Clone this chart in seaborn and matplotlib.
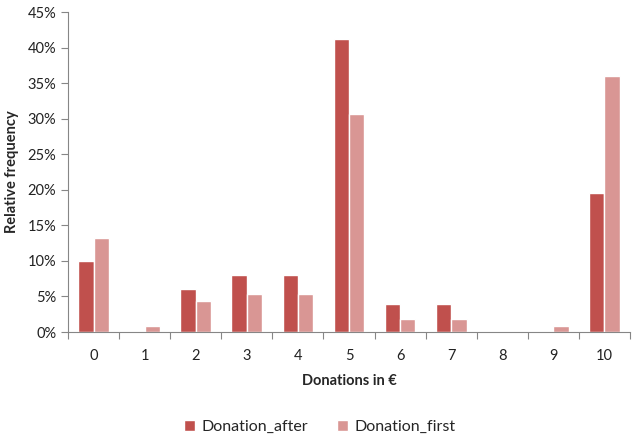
import matplotlib
matplotlib.use("Agg")
import matplotlib.pyplot as plt
from matplotlib.ticker import PercentFormatter, FixedLocator
import seaborn as sns
import pandas as pd

# Donation amounts and relative frequencies (in %)
donations = ["0", "1", "2", "3", "4", "5", "6", "7", "8", "9", "10"]
donation_after = [10.0, 0.0, 6.0, 8.0, 8.0, 41.2, 4.0, 4.0, 0.0, 0.0, 19.6]
donation_first = [13.2, 0.9, 4.4, 5.3, 5.3, 30.7, 1.8, 1.8, 0.0, 0.9, 36.0]
series_names = ["Donation_after", "Donation_first"]
colors = ["#C0504D", "#D99694"]

df = pd.DataFrame({
    "Donation": donations * 2,
    "Frequency": donation_after + donation_first,
    "Series": [series_names[0]] * len(donations) + [series_names[1]] * len(donations),
})

sns.set_theme(style="white")
plt.rcParams["font.family"] = ["Lato", "DejaVu Sans"]

fig = plt.figure(figsize=(6.4, 4.37), dpi=100)
ax = fig.add_axes([68 / 640, 105 / 437, 562 / 640, 320 / 437])

sns.barplot(data=df, x="Donation", y="Frequency", hue="Series",
            order=donations, hue_order=series_names, palette=colors,
            width=0.6, saturation=1, ax=ax, legend=True)

ax.set_ylim(0, 45)
ax.set_xlim(-0.5, len(donations) - 0.5)
ax.yaxis.set_major_locator(FixedLocator(range(0, 46, 5)))
ax.yaxis.set_major_formatter(PercentFormatter(decimals=0))

# Tick marks sit between categories
ax.xaxis.set_minor_locator(FixedLocator([i - 0.5 for i in range(len(donations) + 1)]))
ax.tick_params(axis="x", which="major", length=0, pad=12, labelsize=10.5, colors="#222222")
ax.tick_params(axis="x", which="minor", length=5, width=0.8, color="#868686", bottom=True)
ax.tick_params(axis="y", which="major", length=5, width=0.8, left=True,
               labelsize=10.5, labelcolor="#222222", color="#868686")

for side in ["top", "right"]:
    ax.spines[side].set_visible(False)
for side in ["left", "bottom"]:
    ax.spines[side].set_color("#868686")
    ax.spines[side].set_linewidth(0.8)

ax.set_xlabel("Donations in €", fontsize=10.5, fontweight="bold", labelpad=8)
ax.set_ylabel("Relative frequency", fontsize=10.5, fontweight="bold", labelpad=6)

handles, labels = ax.get_legend_handles_labels()
ax.legend(handles, labels, loc="center", bbox_to_anchor=(0.448, -0.297),
          ncol=2, frameon=False, fontsize=11.5, handlelength=0.7, handleheight=0.7,
          columnspacing=1.8, handletextpad=0.4)

fig.savefig("out.png", dpi=100)
